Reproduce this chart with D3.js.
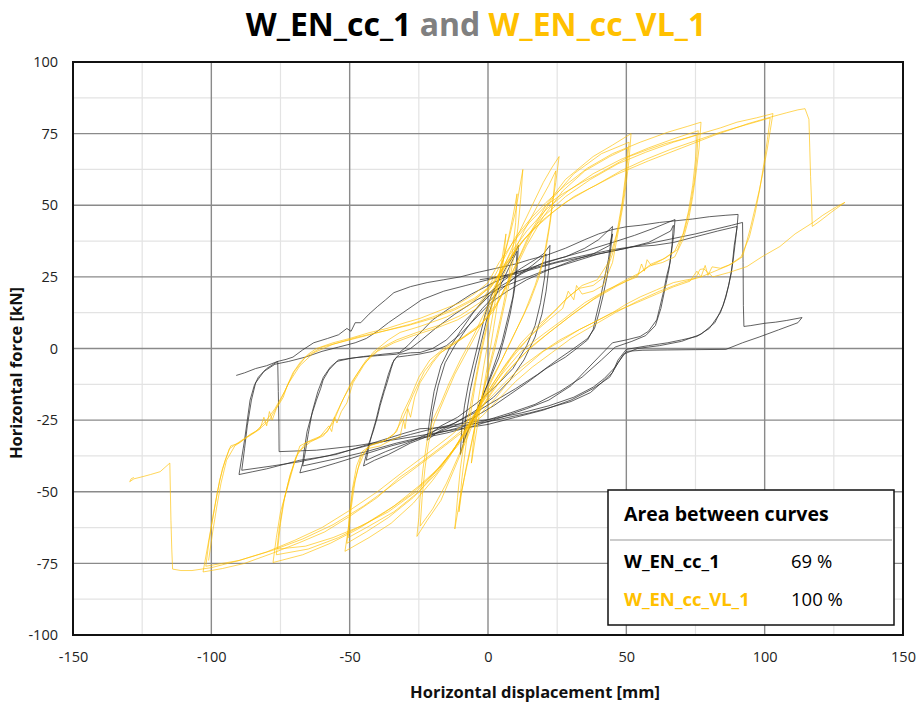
<!DOCTYPE html>
<html><head><meta charset="utf-8">
<script src="https://cdn.jsdelivr.net/npm/d3@7"></script>
<style>body{margin:0;background:#fff}svg{display:block}</style>
</head><body>
<svg id="c" width="923" height="704"></svg>
<script>
// ---------- axis / grid values ----------
const xTicks=[-150,-100,-50,0,50,100,150];
const yTicks=[-100,-75,-50,-25,0,25,50,75,100];
const xMinor=[-125,-75,-25,25,75,125];
const yMinor=[-87.5,-62.5,-37.5,-12.5,12.5,37.5,62.5,87.5];

// ---------- W_EN_cc_1 (black) cycles: [displacement mm, force kN] ----------
const blk_11a=[[-10,-37],[-9.5,-28],[-8.5,-20],[-7,-12],[-5,-4],[-3,4],[-1,12],[1,18],[4,24],[7,29],[9,32],[11,36],[10.5,28],[9.5,20],[8,12],[6,4],[4,-3],[1,-10],[-2,-17],[-5,-24],[-8,-30],[-10,-37]];
const blk_11b=[[-9,-33],[-8,-24],[-6.5,-15],[-4.5,-6],[-2.5,2],[-0.5,10],[2,17],[5,23],[8,29],[10.5,34],[10,26],[9,18],[7,10],[5,2],[2.5,-5],[0,-12],[-3,-19],[-6,-26],[-9,-33]];
const blk_22a=[[-22,-32],[-21,-24],[-19.5,-15],[-17,-6],[-14,0],[-10,6],[-5,13],[0,19],[6,24],[12,28],[17,31],[20,33],[22.4,36],[22,28],[21,20],[19.5,12],[17,4],[13,-4],[8,-11],[2,-17],[-5,-22],[-12,-26],[-18,-29],[-22,-32]];
const blk_22b=[[-21,-30],[-20,-22],[-18,-13],[-15.5,-5],[-12,1],[-7,8],[-2,14],[4,20],[10,25],[16,29],[21,33],[20.5,25],[19,16],[17,8],[14,1],[9,-7],[3,-13],[-4,-19],[-11,-24],[-17,-27],[-21,-30]];
const blk_45a=[[-45,-41],[-44,-37],[-43,-33],[-41.5,-29],[-40,-24],[-39,-20],[-37.5,-15],[-36.5,-12],[-35,-7],[-34,-4],[-32,-2],[-28,-1.5],[-24.6,-1.4],[-20,0],[-15,3],[-10,8],[-5,13],[0,18],[5,22],[12,26],[20,30],[28,32],[35,35],[40,38],[45,42.6],[44.5,38],[43.5,31],[42,24],[40.5,17],[39,11],[38,6.6],[36,3],[33,0.7],[28,-3],[21,-7],[14,-12],[8,-16],[2,-20],[-5,-24],[-12,-27],[-20,-30],[-28,-33],[-36,-37],[-41,-39],[-45,-41]];
const blk_45b=[[-44,-39],[-43,-34],[-42,-30],[-40.5,-25],[-39,-19],[-37.5,-14],[-36,-9],[-34.5,-5],[-33,-3],[-29,-2.5],[-25,-2],[-20,-1],[-15,1],[-10,5],[-4,11],[1,16],[7,20],[14,24],[22,27.5],[30,30.5],[38,33],[44,36],[45,40],[44,32],[43,25],[41.5,18],[40,12],[38.5,7],[36,3.5],[31,0],[25,-4],[18,-9],[10,-14],[3,-18],[-4,-22],[-12,-26],[-20,-29],[-29,-33],[-37,-36],[-44,-39]];
const blk_67a=[[-68,-43.4],[-67,-40],[-66.5,-36],[-65.4,-29],[-64,-24],[-62,-18],[-60.5,-14],[-59.6,-11],[-57.5,-7.5],[-54.6,-4.5],[-50,-3.5],[-45,-2.8],[-38,-2],[-32,-1.4],[-29,1],[-25,5],[-20,10],[-14,14],[-6,19],[2,23],[10,26.5],[18,29],[26,31.5],[35,34],[45,37],[53,39.5],[60,42],[67.6,45],[67.2,40],[66.5,35],[65.8,30],[64.5,25],[63.5,20],[62,14],[61,10],[58,6],[55,4.2],[50,3],[45,2],[40,-3],[35,-8],[30,-13],[22,-18],[14,-21],[5,-24],[-5,-27],[-15,-29.5],[-25,-31.5],[-35,-34],[-45,-37],[-55,-40],[-62,-42],[-68,-43.4]];
const blk_67b=[[-67,-41],[-66,-36],[-65,-30],[-63.5,-22],[-61.5,-15],[-59.5,-10],[-57,-6.5],[-54,-4],[-48,-3.2],[-40,-2.5],[-33,-2],[-28,0],[-24,3],[-19,7],[-12,12],[-4,17],[4,21],[12,24],[20,27],[30,30],[40,33],[50,35],[58,37],[66,41],[67,43],[66.5,36],[65.5,28],[64,21],[62.5,14],[60.5,8],[57,4.5],[52,2.5],[46,0.5],[41,-4],[34,-10],[26,-15],[17,-19.5],[8,-22.5],[-2,-25.5],[-12,-28],[-22,-30.5],[-33,-33],[-44,-36],[-55,-38.5],[-67,-41]];
const blk_90a=[[-90,-44],[-89,-38],[-88,-32],[-87,-25],[-86,-18],[-84.5,-13],[-83,-10],[-80,-7],[-76,-4.5],[-73,-3.8],[-70.5,-3],[-67,-0.5],[-63,2],[-58,3.5],[-54,4.8],[-51,7],[-49.5,6],[-48,9],[-46,9],[-43,12],[-40,14.6],[-37,17],[-34,19.5],[-28,21.6],[-22,23],[-16,24],[-10,25],[-4,26.5],[3,28],[10,29.5],[15,31],[21,32.5],[28,35],[35,38],[40,40],[45,41.5],[50,42.5],[55,43],[62,44],[67,44.5],[74,45.2],[80,46],[86,46.5],[90.4,46.8],[90,42],[89,36],[88,26.5],[86,18],[84,12.5],[80,7],[75.5,4.2],[70,3],[65,2],[58,1],[50,-0.3],[47,-4],[45,-8.4],[41,-12],[37,-15.4],[30,-18.5],[21,-21],[15,-22.5],[9,-23.7],[3,-25],[-3,-26],[-10,-27],[-15,-27.5],[-20,-27.8],[-24.6,-28],[-30,-29.5],[-35,-31],[-40,-32.5],[-45,-34],[-50,-35.5],[-55,-37],[-61,-38],[-68,-39],[-74,-40.5],[-80,-42],[-85,-43],[-90,-44]];
const blk_90b=[[-89,-42.5],[-88,-35],[-87,-27],[-85.5,-18],[-84,-12],[-81,-8],[-77,-5.5],[-72,-4.5],[-66,-3],[-60,-1],[-54,0.5],[-48,2],[-44,3.5],[-40,6],[-36,9],[-30,13],[-24,17],[-16,20],[-8,22],[0,24],[10,26.5],[20,29],[30,31.5],[40,33.5],[45,34.5],[52,35.5],[60,36],[67,37],[75,39],[83,41],[90,42.6],[89.5,38],[88.5,30],[87,22],[85,15],[82,9],[77,5],[70,2.5],[62,1],[54,0],[49,-2],[46,-6.5],[42,-10.5],[38,-13.5],[31,-17],[22,-20],[12,-22.5],[2,-24.5],[-8,-26],[-18,-27.5],[-28,-30],[-38,-32.5],[-48,-35],[-58,-37.5],[-68,-39.5],[-78,-41],[-89,-42.5]];
const blk_final=[[-3,24],[10,26],[25,30],[45,34],[60,37],[75,40],[88,43],[92,44],[92.2,30],[92.3,15],[92.5,7.7],[95,8],[100,8.8],[104,9.2],[108,9.8],[113.5,10.8],[112,9],[105,6.5],[98,4],[92,2],[86,-0.3],[75,-0.4],[65,-0.5],[56,-0.6],[50,-1],[47,-5],[44,-10],[38,-14],[30,-18],[20,-21.5],[10,-24],[0,-26.5],[-10,-28],[-22,-30],[-35,-32],[-48,-34],[-62,-35.5],[-75.5,-36],[-75.6,-25],[-75.8,-15],[-76,-4.5],[-80,-6],[-84,-7],[-88,-8.5],[-91,-9.4]];

// ---------- W_EN_cc_VL_1 (yellow) cycles ----------
const ylw_6=[[-6,-40],[-5,-30],[-3.5,-18],[-1.5,-6],[0.5,5],[2.5,16],[4.5,28],[6.5,40],[5.5,30],[4,19],[2,7],[0,-5],[-2,-16],[-4,-28],[-6,-40]];
const ylw_12a=[[-12,-63],[-11,-52],[-10,-42],[-8,-28],[-6,-18],[-4,-8],[-2,2],[0,10],[2,18],[4,26],[6,33],[8,40],[10,48],[12.6,62.5],[11.8,52],[10.8,42],[9.5,33],[7.5,22],[5,11],[2.5,0],[0,-9],[-2.5,-18],[-4.5,-26],[-6.5,-36],[-8.5,-45],[-10.2,-53],[-12,-63]];
const ylw_12b=[[-10.5,-57],[-9.5,-46],[-8,-34],[-6.5,-24],[-4.5,-12],[-2.5,-2],[-0.5,7],[1.5,15],[3.5,23],[5.5,31],[7.5,39],[9,46],[10.5,54],[10,44],[9,35],[7.5,25],[5.5,15],[3,4],[0.5,-6],[-2,-16],[-4,-24],[-6,-33],[-8,-42],[-9.5,-50],[-10.5,-57]];
const ylw_25a=[[-25.7,-65.6],[-25,-59],[-24.6,-52.7],[-23.5,-42],[-22,-32],[-20,-25],[-17,-19],[-14,-12],[-10,-4],[-5,5],[0,15],[5,27],[10,38],[15,48],[20,58],[23,63],[25.7,67],[24.5,58],[23.5,52],[22,42],[20,31],[17,22],[13,12],[8,2],[3,-8],[-2,-18],[-7,-30],[-12.6,-43],[-17,-53],[-22,-60],[-25.7,-65.6]];
const ylw_25b=[[-24.5,-62],[-23.8,-52],[-22.8,-42],[-21.5,-33],[-19.5,-26],[-16,-18],[-12,-9],[-7,0],[-2,9],[3,20],[8,31],[13,41],[18,50],[22,57],[24.5,62],[23.5,52],[22.5,44],[21,35],[18.5,25],[15,16],[10,6],[5,-4],[0,-13],[-5,-24],[-10,-36],[-15,-47],[-20,-56],[-24.5,-62]];
const ylw_52a=[[-51.7,-70.8],[-50.5,-63],[-50,-58],[-48.8,-49],[-47,-42],[-45,-37],[-43.7,-35],[-39,-34],[-35,-32],[-31.8,-30.7],[-30.5,-25],[-30,-28],[-29,-21],[-28,-24],[-26.5,-17],[-24.6,-12],[-20,-5],[-17,-1.4],[-10,3],[-3,7.7],[3,15],[9,27],[15,40],[21,50],[28,59],[38,67],[45,71],[51.7,75],[51,66],[50,58],[49,51],[47.7,44],[45,30],[41.6,22],[38,20],[34,19],[32,22],[31,17],[29,20],[27,14],[22,10],[16,5],[10,-1],[4,-9],[-2,-18],[-8,-28],[-14,-38],[-20,-46],[-27,-54],[-35,-61],[-43,-66],[-51.7,-70.8]];
const ylw_52b=[[-51,-68],[-50,-58],[-49,-49],[-47.5,-41],[-45.5,-36],[-42,-33.5],[-37,-32],[-33,-29],[-31,-23],[-28,-17],[-25,-10],[-21,-4],[-16,0],[-9,4],[-2,9],[4,17],[10,29],[16,41],[23,52],[31,61],[41,68],[51,72],[50.3,64],[49.3,55],[47.5,44],[45,33],[42,25],[38,22],[33,21],[29,18],[24,13],[18,8],[12,2],[6,-6],[0,-15],[-6,-25],[-12,-35],[-19,-44],[-27,-52],[-36,-59],[-44,-64],[-51,-68]];
const ylw_52c=[[-50.5,-66],[-49.5,-56],[-48,-46],[-46,-38],[-43,-34],[-38,-32.5],[-34,-30],[-31,-25],[-27,-16],[-23,-8],[-18,-2],[-11,2.5],[-4,7],[2,13],[8,24],[14,36],[20,46],[27,55],[35,62],[44,67],[50.5,70],[49.8,61],[48.5,51],[46.5,40],[43.5,30],[39.5,24],[34,22],[28,17],[22,11],[15,4],[8,-4],[2,-13],[-4,-22],[-10,-32],[-17,-41],[-25,-50],[-34,-57],[-43,-62],[-50.5,-66]];
const ylw_77a=[[-77.7,-74.7],[-76.5,-66],[-75,-57],[-72.6,-49],[-70,-40],[-68,-34],[-64,-32],[-60.7,-30.7],[-57.5,-27],[-56.5,-29],[-55.5,-24],[-54.6,-26],[-53,-22],[-51,-19],[-48.8,-12],[-45,-6],[-41.6,-1.4],[-36,3],[-31.8,5.6],[-24.6,7.7],[-15,11],[-7,15],[0,21],[5,30],[10,39],[16,46],[21,51],[28,57],[36,63],[45,68],[55,72],[65,75.5],[72,77.5],[77,79],[76.3,70],[75.3,62],[74,53],[72.5,45],[70.5,38],[67.5,32],[63,30],[59,29],[57.5,31],[56.5,27],[55.5,29.5],[54,25],[50,23.5],[43,20.5],[35,16],[27,10],[20,5],[12,-1],[5,-9],[-1,-17],[-7,-27],[-13,-36],[-20,-44],[-28,-51],[-37,-57],[-47,-63],[-57,-68],[-67,-72],[-77.7,-74.7]];
const ylw_77b=[[-76.5,-72],[-75.5,-63],[-74,-54],[-72,-46],[-69.5,-38],[-66,-33],[-62,-31.5],[-58,-29],[-55,-23],[-52,-17],[-48,-10],[-44,-4],[-39,0],[-33,3],[-26,5.5],[-18,8],[-10,11.5],[-3,16],[3,24],[8,33],[14,41],[21,48.5],[29,55],[38,61],[48,66],[58,70],[68,73.5],[76,76],[75.5,67],[74.5,58],[73,49],[71,41],[68.5,34.5],[64,31.5],[59,29.5],[55,26.5],[48,23],[40,18.5],[32,13],[24,7],[16,1],[9,-6],[2,-14],[-4,-23],[-10,-32],[-17,-41],[-25,-48],[-34,-55],[-44,-61],[-54,-66],[-65,-70],[-76.5,-72]];
const ylw_77c=[[-76,-70],[-75,-61],[-73.5,-52],[-71.5,-44],[-68.5,-36],[-64,-32.5],[-59.5,-30.5],[-56,-26],[-53,-19],[-49.5,-12],[-45,-5.5],[-40,-1],[-34,2],[-27,4.5],[-19,7],[-11,10],[-4,14],[2,21],[7,30],[13,38],[20,46],[28,53],[37,59],[47,64.5],[57,68.5],[67,72],[75.5,74.5],[75,66],[74,57],[72.5,48],[70.5,40],[67.5,34],[63,31],[58,28.5],[53,25],[46,21.5],[38,17],[30,11.5],[22,5.5],[14,-1],[7,-8],[1,-16],[-5,-25],[-11,-34],[-18,-42],[-26,-50],[-36,-57],[-46,-62],[-56,-66],[-66,-69],[-76,-70]];
const ylw_103a=[[-103,-78],[-101.5,-70],[-100,-62],[-98.5,-54],[-97,-46],[-95,-39],[-93,-34],[-90,-33],[-86,-30],[-82.4,-28],[-81,-24],[-80,-27],[-79,-22],[-78,-25],[-76.5,-21],[-74,-17],[-72.6,-13],[-70.5,-8.5],[-68,-5],[-65,-2],[-62,0],[-56,2],[-50,3.5],[-43,5.5],[-36.5,7],[-30,9],[-24.6,10.5],[-18,13],[-10,16],[-5,19],[0,23],[4,30],[9,37],[15,44],[21,50],[27,54],[34,58],[40,61],[51,67],[58,69.5],[64,71.5],[70,73],[77,75],[84,77],[90,79],[97,80.5],[103,82],[102,76],[101,70],[99.5,62],[98,55],[96.3,48],[94.7,41.5],[92,32],[88,29.5],[84,28],[81,28.5],[79.5,25.5],[78.5,29],[77,25],[75.5,27],[73,23.5],[67,21.5],[61,19],[55,16.5],[50,14.5],[45,12.5],[39,9.5],[33,6.6],[27,3],[20,-1],[14,-6],[8,-11],[3,-17],[-2,-22],[-8,-27.5],[-15,-33],[-24.6,-40],[-32,-45],[-40,-52],[-50,-58.6],[-59,-64],[-68,-67.7],[-78,-71.5],[-88,-75],[-96,-76.8],[-103,-78]];
const ylw_103b=[[-102,-76],[-100.8,-67],[-99.3,-58],[-97.8,-50],[-96,-42],[-93.5,-35],[-89,-32],[-84,-29],[-80,-25],[-77,-21],[-73.5,-15],[-70,-8],[-66,-3],[-60,0.5],[-52,2.5],[-44,4.5],[-36,6.5],[-28,8.5],[-20,11],[-12,14],[-5,17.5],[1,22],[6,29],[11,36],[17,42],[24,48],[31,53],[39,57],[48,62],[57,66],[66,69.5],[75,72.5],[84,75.5],[93,78],[102,80.5],[101,73],[99.8,65],[98.3,56],[96.5,47],[94.5,39],[91.5,32],[87,29],[82,27],[77,25],[70,23],[62,20],[54,16.5],[46,12.5],[38,8],[30,3.5],[23,-1.5],[16,-6.5],[10,-11.5],[4,-17.5],[-2,-23.5],[-9,-29],[-17,-35],[-26,-41.5],[-35,-48],[-45,-55],[-56,-61.5],[-67,-66.5],[-78,-70.5],[-90,-74],[-102,-76]];
const ylw_final=[[-101,-74],[-99.5,-64],[-98,-55],[-96.5,-47],[-94.5,-39],[-91.5,-34],[-87,-31],[-83,-28.5],[-79,-25],[-75.5,-19],[-72,-12],[-68,-6],[-63,-1.5],[-56,1.5],[-47,4],[-38,6],[-29,8],[-20,10.5],[-12,13.5],[-5,17],[1,21.5],[7,30],[13,38],[20,45],[28,51],[37,56],[47,61],[58,65.5],[70,70],[82,74.5],[94,78.5],[103,81],[108,82.3],[112,83.3],[114.6,83.7],[116,80],[116.3,70],[116.6,60],[117,50],[117.2,42.6],[120,44.5],[124,47.5],[129,51],[126,49.5],[121,46.5],[117.5,44],[111,40],[105.5,35.6],[99,32],[93.6,28.6],[87,26.5],[81.3,25],[78,27.8],[76.6,27.6],[75,24.5],[72,24],[67,23],[61,20.5],[55,18],[50,15.5],[45,12.5],[39,9.5],[33,6.6],[26,3],[19,-1.5],[12,-6.5],[6,-12],[0,-18],[-6,-24],[-13,-30],[-21,-36],[-30,-42.5],[-40,-50],[-50,-56.5],[-60,-62.5],[-70,-67],[-80,-71],[-90,-74],[-100,-76.5],[-107,-77.5],[-111,-77.5],[-114,-77],[-114.3,-70],[-114.6,-60],[-114.8,-50],[-115,-40],[-118.5,-43],[-122,-44],[-124.7,-44.7],[-128,-45.5],[-129.5,-46.5],[-129,-45.5],[-128,-45]];

const blackSeries=[blk_11a,blk_11b,blk_22a,blk_22b,blk_45a,blk_45b,blk_67a,blk_67b,blk_90a,blk_90b,blk_final];
const yellowSeries=[ylw_6,ylw_12a,ylw_12b,ylw_25a,ylw_25b,ylw_52a,ylw_52b,ylw_52c,ylw_77a,ylw_77b,ylw_77c,ylw_103a,ylw_103b,ylw_final];

const legendTitle="Area between curves";
const legendNames=["W_EN_cc_1","W_EN_cc_VL_1"];
const legendValues=["69 %","100 %"];

// ---------- drawing ----------
const BLACK="#2f2f2f", GOLD="#FFC000";
const svg=d3.select("#c");
const L=73,R=903,T=62,B=635;
const x=d3.scaleLinear().domain([-150,150]).range([L,R]);
const y=d3.scaleLinear().domain([-100,100]).range([B,T]);
const FONT="'Open Sans', 'DejaVu Sans', sans-serif";

// title
const title=svg.append("text").attr("x",476).attr("y",36).attr("text-anchor","middle")
  .style("font-family",FONT).style("font-weight","700").style("font-size","32px");
title.append("tspan").attr("fill","#000").text("W_EN_cc_1");
title.append("tspan").attr("fill","#808080").text(" and ");
title.append("tspan").attr("fill",GOLD).text("W_EN_cc_VL_1");

// grid
const g=svg.append("g");
g.selectAll(".vmin").data(xMinor).join("line").attr("x1",d=>x(d)).attr("x2",d=>x(d)).attr("y1",T).attr("y2",B).attr("stroke","#e3e3e3").attr("stroke-width",1.2);
g.selectAll(".hmin").data(yMinor).join("line").attr("y1",d=>y(d)).attr("y2",d=>y(d)).attr("x1",L).attr("x2",R).attr("stroke","#e3e3e3").attr("stroke-width",1.2);
g.selectAll(".vmaj").data(xTicks.slice(1,-1)).join("line").attr("x1",d=>x(d)).attr("x2",d=>x(d)).attr("y1",T).attr("y2",B).attr("stroke","#8a8a8a").attr("stroke-width",1.4);
g.selectAll(".hmaj").data(yTicks.slice(1,-1)).join("line").attr("y1",d=>y(d)).attr("y2",d=>y(d)).attr("x1",L).attr("x2",R).attr("stroke","#8a8a8a").attr("stroke-width",1.4);

// curves
const line=d3.line().x(d=>x(d[0])).y(d=>y(d[1]));
svg.append("g").selectAll("path").data(blackSeries).join("path").attr("d",line)
  .attr("fill","none").attr("stroke",BLACK).attr("stroke-width",0.9).attr("stroke-opacity",0.85).attr("stroke-linejoin","round");
svg.append("g").selectAll("path").data(yellowSeries).join("path").attr("d",line)
  .attr("fill","none").attr("stroke",GOLD).attr("stroke-width",0.9).attr("stroke-opacity",0.72).attr("stroke-linejoin","round");

// frame
svg.append("rect").attr("x",L).attr("y",T).attr("width",R-L).attr("height",B-T).attr("fill","none").attr("stroke","#111").attr("stroke-width",2);

// axes
const fmt=d=>String(d);
const xa=svg.append("g").attr("transform",`translate(0,${B})`).call(d3.axisBottom(x).tickValues(xTicks).tickSize(0).tickPadding(17).tickFormat(fmt));
const ya=svg.append("g").attr("transform",`translate(${L},0)`).call(d3.axisLeft(y).tickValues(yTicks).tickSize(0).tickPadding(15).tickFormat(fmt));
[xa,ya].forEach(a=>{a.select(".domain").remove();a.selectAll("text").style("font-family",FONT).style("font-size","14.5px").attr("fill","#222");});

// axis titles
svg.append("text").attr("x",535).attr("y",698).attr("text-anchor","middle").style("font-family",FONT).style("font-weight","700").style("font-size","16.5px").attr("fill","#111").text("Horizontal displacement [mm]");
svg.append("text").attr("transform","translate(22,373) rotate(-90)").attr("text-anchor","middle").style("font-family",FONT).style("font-weight","700").style("font-size","16.5px").attr("fill","#111").text("Horizontal force [kN]");

// legend box
const lg=svg.append("g");
lg.append("rect").attr("x",608).attr("y",490).attr("width",286).attr("height",135).attr("fill","#fff").attr("stroke","#111").attr("stroke-width",1.5);
lg.append("line").attr("x1",610).attr("x2",892).attr("y1",540).attr("y2",540).attr("stroke","#999").attr("stroke-width",1);
lg.append("text").attr("x",624).attr("y",521).style("font-family",FONT).style("font-weight","700").style("font-size","19.5px").attr("fill","#000").text(legendTitle);
const rowsY=[568,606], rowsC=["#000",GOLD];
legendNames.forEach((n,i)=>{
  lg.append("text").attr("x",624).attr("y",rowsY[i]).style("font-family",FONT).style("font-weight","700").style("font-size","18.5px").attr("fill",rowsC[i]).text(n);
  lg.append("text").attr("x",791).attr("y",rowsY[i]).style("font-family",FONT).style("font-size","18.5px").attr("fill","#000").text(legendValues[i]);
});
</script>
</body></html>
